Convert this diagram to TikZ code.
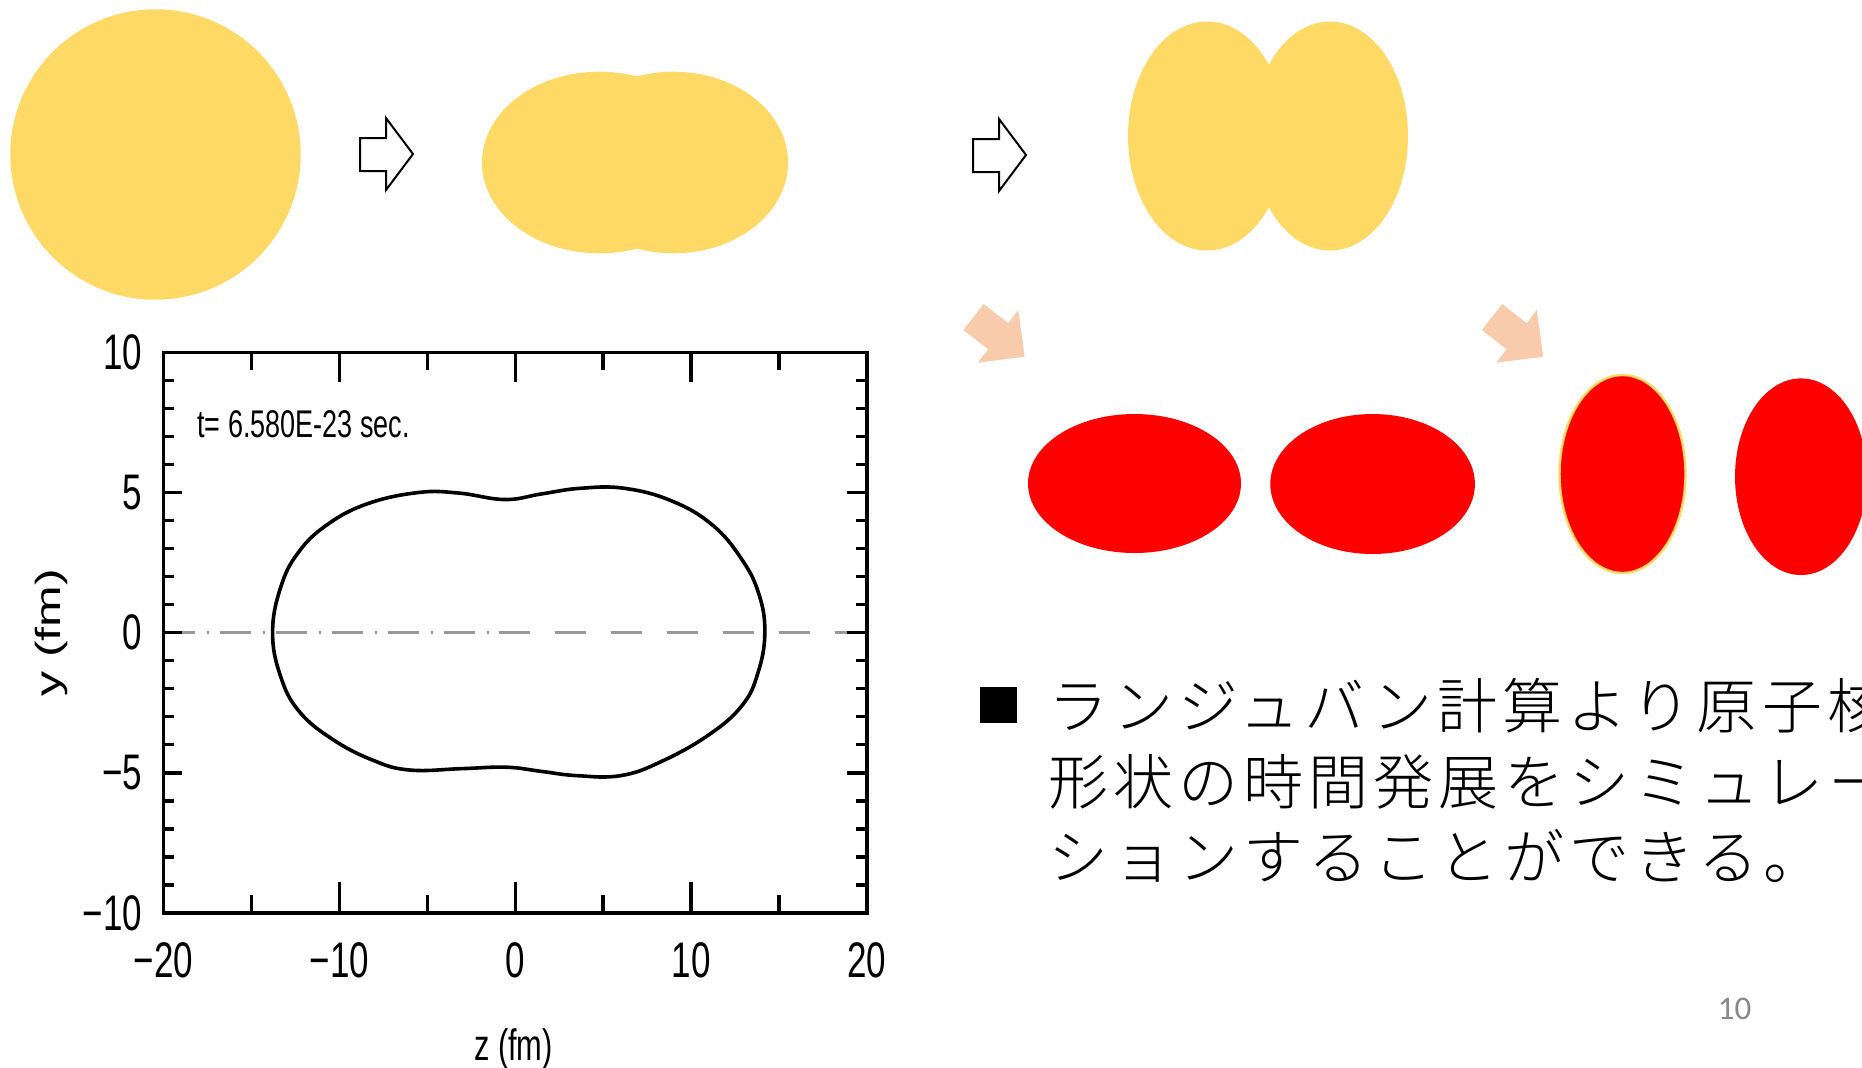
\documentclass[tikz,border=0pt]{standalone}
\usepackage{fontspec}
\newfontfamily\jpfont[LetterSpace=8.5]{Noto Sans CJK JP Light}
\newfontfamily\plotfont[FakeStretch=0.7]{Liberation Sans}
\newfontfamily\labelfont{Liberation Sans}
\newfontfamily\slidefont{Carlito}
\definecolor{dropyellow}{HTML}{FFD966}
\definecolor{fragred}{HTML}{FF0000}
\definecolor{arrowpink}{HTML}{F8CBAD}
\definecolor{axisgray}{HTML}{999999}
\definecolor{pagegray}{HTML}{898989}

\begin{document}
\begin{tikzpicture}[x=0.5pt, y=-0.5pt,
    drop/.style={fill=dropyellow},
    frag/.style={fill=fragred},
    hollow arrow/.style={draw, line width=1pt, fill=white, line join=miter},
    soft arrow/.style={fill=arrowpink},
    plotframe/.style={line width=1.7pt},
    ticklab/.style={font=\plotfont\fontsize{25}{30}\selectfont, inner sep=0pt}]
    \fill[white] (0,0) rectangle (1862,1067);
    \useasboundingbox (0,0) rectangle (1862,1067);

    % sphere -> neck -> two touching drops
    \fill[drop] (155.5,154.5) circle (145.2);
    \fill[drop] (599.5,162.5) ellipse (117.5 and 90.8);
    \fill[drop] (673.5,162.5) ellipse (114.5 and 90.8);
    \fill[drop] (1207,136) ellipse (79 and 114.5);
    \fill[drop] (1330,136) ellipse (78 and 114.5);
    \foreach \dx/\dy in {0/0, 613/1}
        \draw[hollow arrow, shift={(\dx,\dy)}] (360,138) -- (386,138) -- (386,118) -- (413,154)
            -- (386,190) -- (386,171) -- (360,171) -- cycle;

    % fragments
    \foreach \dx in {0,518.5}
        \fill[soft arrow, shift={(\dx,0)}] (963.4,330) -- (983.7,304) -- (1008.2,323.3) -- (1018.2,310)
            -- (1024.7,356.7) -- (977.6,362.7) -- (988.3,349.3) -- cycle;
    \fill[frag] (1134.5,483.5) ellipse (106.5 and 69.5);
    \fill[frag] (1372.6,484) ellipse (102.3 and 70);
    \filldraw[frag, draw=dropyellow, line width=1.2pt] (1622.5,474) ellipse (63 and 99);
    \fill[frag] (1801,476.7) ellipse (66 and 98.3);

    % density contour, z and y in fm
    \begin{scope}[shift={(515.2,632.65)}, x=8.79pt, y=14.015pt]
        \draw[axisgray, line width=1.7pt, dash pattern=on 15.5pt off 6pt on 1pt off 5.5pt] (-20,0) -- (-0.98,0);
        \draw[axisgray, line width=1.7pt, dash pattern=on 15.5pt off 12.5pt] (-0.92,0) -- (20,0);
        \foreach \y in {-9,...,9}
            \draw[plotframe] (-20,\y) -- ++(0.61,0) (20,\y) -- ++(-0.63,0);
        \foreach \y in {-5,0,5}
            \draw[plotframe] (-20,\y) -- ++(1.05,0) (20,\y) -- ++(-1.1,0);
        \foreach \z in {-15,-5,5,15}
            \draw[plotframe] (\z,-10) -- ++(0,0.65) (\z,10) -- ++(0,-0.63);
        \foreach \z in {-10,0,10}
            \draw[plotframe] (\z,-10) -- ++(0,1.1) (\z,10) -- ++(0,-1.07);
        \draw[plotframe] (-20,-10) rectangle (20,10);

        \foreach \y/\t [count=\i] in {10/10, 5/5, 0/0, -5/−5, -10/−10}
            \node[ticklab, anchor=east] (ylab\i) at (-21.2,\y) {\t};
        \foreach \z/\t [count=\i] in {-20/−20, -10/−10, 0/0, 10/10, 20/20}
            \node[ticklab, anchor=north] (zlab\i) at (\z,-11.05) {\t};
        \node[font=\plotfont\fontsize{19.3}{23}\selectfont, anchor=base west, inner sep=0pt] (stamp)
            at (-18.1,6.98) {t= 6.580E-23 sec.};
        \node[font=\plotfont\fontsize{22}{26}\selectfont, anchor=base, inner sep=0pt] (ztitle)
            at (-0.1,-15.25) {z (fm)};
        \node[font=\labelfont\fontsize{25}{30}\selectfont, rotate=90, yscale=0.7, inner sep=0pt] (ytitle)
            at (-26.4,0) {y (fm)};

        \draw[line width=1.8pt] plot[smooth cycle, tension=0.7] coordinates {
            (-13.8,0) (-13.35,1.6) (-12.35,2.85) (-10.7,3.85) (-8.4,4.6) (-5.5,5.0) (-3.2,4.98)
            (-0.6,4.75) (1.5,4.95) (3.7,5.15) (6.2,5.15) (8.9,4.7) (11.2,3.85) (12.85,2.65)
            (13.85,1.4) (14.2,0) (13.8,-1.45) (12.9,-2.6) (11.0,-3.65) (8.3,-4.6) (6,-5.1)
            (3.5,-5.1) (1.5,-4.95) (-0.5,-4.8) (-3,-4.85) (-6,-4.9) (-8.1,-4.55) (-10.4,-3.8)
            (-12.3,-2.8) (-13.35,-1.55)};
    \end{scope}

    % bullet text
    \fill (980,687) rectangle (1017,723);
    \node[font=\jpfont\fontsize{30}{38}\selectfont, anchor=base west, inner sep=0pt] (line1)
        at (1048,728.5) {ランジュバン計算より原子核};
    \node[font=\jpfont\fontsize{30}{38}\selectfont, anchor=base west, inner sep=0pt] (line2)
        at (1048,804.5) {形状の時間発展をシミュレー};
    \node[font=\jpfont\fontsize{30}{38}\selectfont, anchor=base west, inner sep=0pt] (line3)
        at (1048,879.5) {ションすることができる。};

    \node[font=\slidefont\fontsize{16.5}{20}\selectfont, text=pagegray, anchor=base, inner sep=0pt] (pageno)
        at (1734.5,1019) {10};
\end{tikzpicture}
\end{document}
